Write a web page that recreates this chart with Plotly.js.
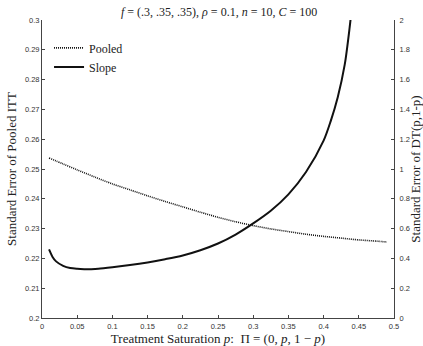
<!DOCTYPE html>
<html>
<head>
<meta charset="utf-8">
<script src="https://cdn.plot.ly/plotly-3.0.1.min.js"></script>
<style>html,body{margin:0;padding:0;background:#fff;}#chart{width:423px;height:346px;}</style>
</head>
<body>
<div id="chart"></div>
<script>
// Treatment saturation p
const pooledP = [0.01, 0.03, 0.05, 0.075, 0.1, 0.125, 0.15, 0.175, 0.2, 0.225, 0.25, 0.275, 0.3, 0.325, 0.35, 0.375, 0.4, 0.425, 0.45, 0.475, 0.49];
// Standard error of pooled ITT (left axis)
const pooledSE = [0.2537, 0.2517, 0.2497, 0.2473, 0.2450, 0.2430, 0.2410, 0.2391, 0.2373, 0.2355, 0.2338, 0.2323, 0.2310, 0.2299, 0.2290, 0.2281, 0.2274, 0.2268, 0.2262, 0.2258, 0.2255];

const slopeP = [0.01, 0.015, 0.02, 0.03, 0.04, 0.05, 0.06, 0.07, 0.08, 0.1, 0.125, 0.15, 0.175, 0.2, 0.225, 0.25, 0.275, 0.3, 0.325, 0.35, 0.375, 0.4, 0.41, 0.42, 0.43, 0.437, 0.44];
// Standard error of DT(p,1-p) (right axis)
const slopeSE = [0.46, 0.41, 0.38, 0.35, 0.335, 0.33, 0.328, 0.328, 0.33, 0.34, 0.355, 0.373, 0.395, 0.42, 0.455, 0.50, 0.56, 0.635, 0.72, 0.83, 0.98, 1.19, 1.32, 1.48, 1.70, 1.95, 2.08];

const xTicks = [0, 0.05, 0.1, 0.15, 0.2, 0.25, 0.3, 0.35, 0.4, 0.45, 0.5];
const xTickText = ["0", "0.05", "0.1", "0.15", "0.2", "0.25", "0.3", "0.35", "0.4", "0.45", "0.5"];
const yLeftTicks = [0.2, 0.21, 0.22, 0.23, 0.24, 0.25, 0.26, 0.27, 0.28, 0.29, 0.3];
const yLeftText = ["0.2", "0.21", "0.22", "0.23", "0.24", "0.25", "0.26", "0.27", "0.28", "0.29", "0.3"];
const yRightTicks = [0, 0.2, 0.4, 0.6, 0.8, 1, 1.2, 1.4, 1.6, 1.8, 2];
const yRightText = ["0", "0.2", "0.4", "0.6", "0.8", "1", "1.2", "1.4", "1.6", "1.8", "2"];

const serif = "Liberation Serif";
const tickFont = {family: "Liberation Sans", size: 7.5, color: "#333"};
const axisCol = "#444";

const traces = [
  {x: pooledP, y: pooledSE, name: "Pooled", type: "scatter", mode: "lines",
   line: {color: "#111", width: 1.6, dash: "1px,1px", shape: "spline", smoothing: 0.8}, yaxis: "y"},
  {x: slopeP, y: slopeSE, name: "Slope", type: "scatter", mode: "lines",
   line: {color: "#111", width: 2, shape: "spline", smoothing: 0.8}, yaxis: "y2"}
];

const layout = {
  width: 423, height: 346,
  margin: {l: 42, r: 29, t: 20, b: 28},
  paper_bgcolor: "#fff", plot_bgcolor: "#fff",
  showlegend: true,
  title: {text: "<i>f</i> = (.3, .35, .35), <i>ρ</i> = 0.1, <i>n</i> = 10, <i>C</i> = 100",
          font: {family: serif, size: 12, color: "#222"}, x: 0.518, xanchor: "center", y: 0.965, yanchor: "middle"},
  legend: {x: 0.02, y: 0.955, xanchor: "left", yanchor: "top", bgcolor: "rgba(0,0,0,0)",
           font: {family: serif, size: 12, color: "#222"}, itemwidth: 30, tracegroupgap: 0},
  xaxis: {range: [0, 0.5], tickvals: xTicks, ticktext: xTickText, tickfont: tickFont,
          showline: true, linecolor: axisCol, linewidth: 1, ticks: "inside", ticklen: 3, tickcolor: axisCol,
          ticklabelstandoff: 1,
          showgrid: false, zeroline: false, mirror: false,
          title: {text: "Treatment Saturation <i>p</i>:  Π = (0, <i>p</i>, 1 − <i>p</i>)", font: {family: serif, size: 13, color: "#222"}, standoff: 4}},
  yaxis: {range: [0.2, 0.3], tickvals: yLeftTicks, ticktext: yLeftText, tickfont: tickFont,
          showline: true, linecolor: axisCol, linewidth: 1, ticks: "inside", ticklen: 3, tickcolor: axisCol,
          showgrid: false, zeroline: false,
          title: {text: "Standard Error of Pooled ITT", font: {family: serif, size: 13, color: "#222"}, standoff: 5}},
  yaxis2: {range: [0, 2], overlaying: "y", side: "right", anchor: "x",
           tickvals: yRightTicks, ticktext: yRightText, tickfont: tickFont,
           showline: true, linecolor: axisCol, linewidth: 1, ticks: "inside", ticklen: 3, tickcolor: axisCol,
           ticklabelstandoff: 3,
           showgrid: false, zeroline: false,
           title: {text: "Standard Error of DT(p,1-p)", font: {family: serif, size: 13, color: "#222"}, standoff: 3}}
};

Plotly.newPlot("chart", traces, layout, {displayModeBar: false, staticPlot: true});
</script>
</body>
</html>
